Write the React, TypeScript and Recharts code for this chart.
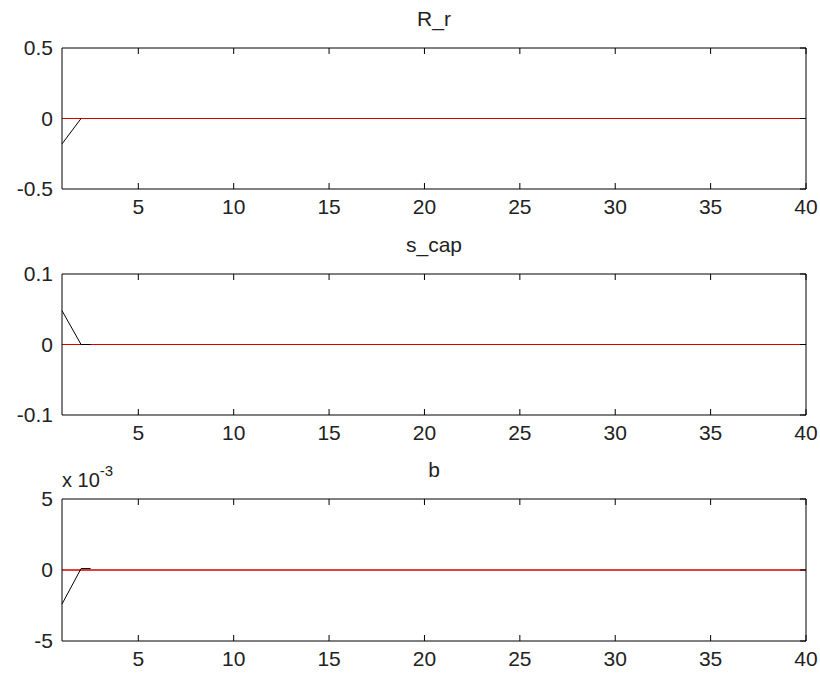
import React from "react";
import { LineChart, Line, XAxis, YAxis } from "recharts";

// impulse responses
const rrX = [1, 2];
const rrY = [-0.18, 0];
const scapX = [1, 2, 2.5];
const scapY = [0.048, 0, 0];
const bX = [1, 2, 2.5];
const bY = [-0.0024, 0.0001, 0.0001];

const zeroX = [1, 40];
const zeroY = [0, 0];

const xTicks = [5, 10, 15, 20, 25, 30, 35, 40];
const rrTicks = [-0.5, 0, 0.5];
const scapTicks = [-0.1, 0, 0.1];
const bTicks = [-0.005, 0, 0.005];

const FONT = "'Liberation Sans', Arial, sans-serif";
const W = 820;
const H = 225;
const tickFont = { fill: "#222", fontSize: 21, fontFamily: FONT };

const toPoints = (xs: number[], ys: number[]) => xs.map((x, i) => ({ x, y: ys[i] }));

interface PanelProps {
  top: number;
  bottomMargin: number;
  xs: number[];
  ys: number[];
  domain: [number, number];
  ticks: number[];
  fmt: (v: number) => string;
}

const Panel = ({ top, bottomMargin, xs, ys, domain, ticks, fmt }: PanelProps) => (
  <div style={{ position: "absolute", left: 0, top }}>
    <LineChart width={W} height={H} margin={{ top: 47, right: 13, bottom: bottomMargin, left: 0 }}>
      <XAxis
        xAxisId="b"
        type="number"
        dataKey="x"
        domain={[1, 40]}
        ticks={xTicks}
        height={29}
        tickSize={0}
        tickMargin={9}
        tickLine={false}
        axisLine={false}
        tick={tickFont}
        interval={0}
      />
      {/* inward tick marks along the bottom edge */}
      <XAxis
        xAxisId="a"
        type="number"
        dataKey="x"
        domain={[1, 40]}
        ticks={xTicks}
        height={1}
        tickSize={-6}
        tickLine={{ stroke: "#000" }}
        axisLine={{ stroke: "#000" }}
        tickFormatter={() => ""}
        interval={0}
      />
      <XAxis
        xAxisId="t"
        orientation="top"
        type="number"
        dataKey="x"
        domain={[1, 40]}
        ticks={xTicks}
        height={1}
        tickSize={-6}
        tickLine={{ stroke: "#000" }}
        axisLine={{ stroke: "#000" }}
        tickFormatter={() => ""}
        interval={0}
      />
      <YAxis
        yAxisId="l"
        type="number"
        domain={domain}
        ticks={ticks}
        width={62}
        tickSize={0}
        tickMargin={9}
        tickLine={false}
        axisLine={{ stroke: "#000" }}
        tick={tickFont}
        tickFormatter={fmt}
        interval={0}
      />
      <YAxis
        yAxisId="r"
        orientation="right"
        type="number"
        domain={domain}
        ticks={ticks}
        width={1}
        tickSize={-6}
        tickLine={{ stroke: "#000" }}
        axisLine={{ stroke: "#000" }}
        tickFormatter={() => ""}
        interval={0}
      />
      <Line
        xAxisId="t"
        yAxisId="r"
        data={toPoints(zeroX, zeroY)}
        dataKey="y"
        stroke="#d40000"
        strokeWidth={1}
        dot={false}
        isAnimationActive={false}
      />
      <Line
        xAxisId="a"
        yAxisId="l"
        data={toPoints(zeroX, zeroY)}
        dataKey="y"
        stroke="#d40000"
        strokeWidth={1}
        dot={false}
        isAnimationActive={false}
      />
      <Line
        xAxisId="b"
        yAxisId="l"
        data={toPoints(xs, ys)}
        dataKey="y"
        stroke="#000"
        strokeWidth={1}
        dot={false}
        isAnimationActive={false}
      />
    </LineChart>
  </div>
);

const titleStyle = (top: number): React.CSSProperties => ({
  position: "absolute",
  left: 62,
  width: 744,
  top,
  textAlign: "center",
  fontFamily: FONT,
  fontSize: 21,
  lineHeight: "21px",
  color: "#222",
});

export default function App() {
  return (
    <div style={{ position: "absolute", left: 0, top: 0, width: 820, height: 675, background: "#fff" }}>
      <Panel top={0} bottomMargin={6} xs={rrX} ys={rrY} domain={[-0.5, 0.5]} ticks={rrTicks} fmt={(v) => String(v)} />
      <Panel top={226} bottomMargin={6} xs={scapX} ys={scapY} domain={[-0.1, 0.1]} ticks={scapTicks} fmt={(v) => String(v)} />
      <Panel top={451} bottomMargin={5} xs={bX} ys={bY} domain={[-0.005, 0.005]} ticks={bTicks} fmt={(v) => String(Math.round(v * 1000))} />
      <div style={titleStyle(8)}>R_r</div>
      <div style={titleStyle(234)}>s_cap</div>
      <div style={titleStyle(459)}>b</div>
      <div
        style={{
          position: "absolute",
          left: 62,
          top: 470,
          fontFamily: FONT,
          fontSize: 20,
          lineHeight: "20px",
          color: "#222",
          whiteSpace: "nowrap",
        }}
      >
        x 10<sup style={{ fontSize: 15, verticalAlign: "top", position: "relative", top: -9 }}>-3</sup>
      </div>
    </div>
  );
}
